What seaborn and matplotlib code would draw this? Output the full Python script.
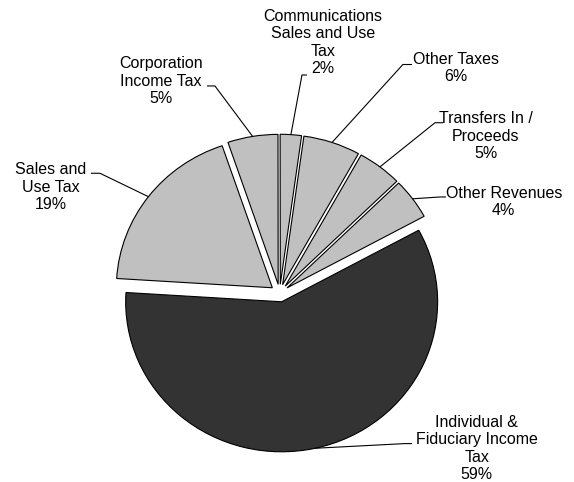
import numpy as np
import matplotlib
matplotlib.use("Agg")
import matplotlib.pyplot as plt
import seaborn as sns

# Revenue sources (share of total, percent), drawn counter-clockwise
categories = [
    "Other Revenues",
    "Transfers In /\nProceeds",
    "Other Taxes",
    "Communications\nSales and Use\nTax",
    "Corporation\nIncome Tax",
    "Sales and\nUse Tax",
    "Individual &\nFiduciary Income\nTax",
]
shares = [4.4, 4.6, 5.9, 2.2, 5.2, 18.8, 58.9]
slice_colors = ["#c0c0c0", "#c0c0c0", "#c0c0c0", "#c0c0c0", "#c0c0c0", "#c0c0c0", "#333333"]

# Label block centres and leader-line elbows (axes data units, pie radius = 1)
label_xy = [(1.437, 0.607), (1.321, 1.047), (1.130, 1.501), (0.278, 1.671),
            (-0.762, 1.412), (-1.467, 0.707), (1.263, -1.035)]
elbow_xy = [(1.028, 0.641), (0.996, 1.136), (0.790, 1.524), (0.143, 1.454),
            (-0.415, 1.381), (-1.152, 0.799), (0.803, -1.003)]
tick_end_x = [1.066, 1.047, 0.848, 0.175, -0.466, -1.210, 0.848]

sns.set_theme(style="white")
plt.rcParams["font.family"] = ["Liberation Sans", "DejaVu Sans"]

fig = plt.figure(figsize=(5.74, 4.82), dpi=100)
ax = fig.add_axes([0, 0, 1, 1])

wedges, _ = ax.pie(
    shares,
    colors=slice_colors,
    startangle=28.5,
    counterclock=True,
    explode=[0.059] * len(shares),
    radius=1.0,
    wedgeprops=dict(edgecolor="black", linewidth=0.8),
)

for w, name, val, (tx, ty), (ex, ey), hx in zip(
        wedges, categories, shares, label_xy, elbow_xy, tick_end_x):
    mid = np.deg2rad((w.theta1 + w.theta2) / 2.0)
    cx, cy = w.center
    ax_pt = cx + w.r * np.cos(mid)
    ay_pt = cy + w.r * np.sin(mid)
    ax.plot([ax_pt, ex, hx], [ay_pt, ey, ey], color="black", lw=0.8,
            solid_capstyle="butt", zorder=3)
    ax.text(tx, ty, f"{name}\n{int(round(val))}%", ha="center", va="center",
            multialignment="center", fontsize=11.5, linespacing=1.2,
            color="black")

ax.set_aspect("auto")
ax.set_xlim(-1.793, 1.887)
ax.set_ylim(-1.259, 1.954)
ax.axis("off")

fig.savefig("out.png", dpi=100, facecolor="white")
